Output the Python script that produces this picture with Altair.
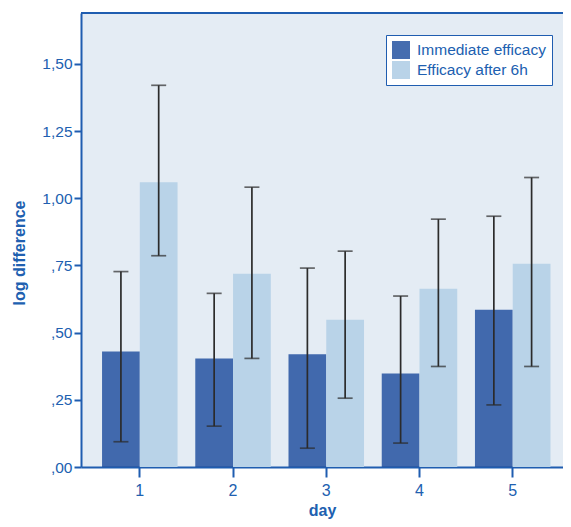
import altair as alt
import pandas as pd

days = [1, 2, 3, 4, 5]
series = ["Immediate efficacy", "Efficacy after 6h"]
immediate_mean = [0.430, 0.404, 0.419, 0.348, 0.585]
immediate_lo = [0.094, 0.152, 0.070, 0.089, 0.231]
immediate_hi = [0.727, 0.646, 0.740, 0.636, 0.933]
after6h_mean = [1.059, 0.719, 0.548, 0.663, 0.756]
after6h_lo = [0.786, 0.404, 0.256, 0.374, 0.374]
after6h_hi = [1.420, 1.041, 0.803, 0.922, 1.077]
y_ticks = [0, 0.25, 0.5, 0.75, 1.0, 1.25, 1.5]

rows = []
for i, d in enumerate(days):
    rows.append({"day": d, "series": series[0], "mean": immediate_mean[i],
                 "lo": immediate_lo[i], "hi": immediate_hi[i]})
    rows.append({"day": d, "series": series[1], "mean": after6h_mean[i],
                 "lo": after6h_lo[i], "hi": after6h_hi[i]})
df = pd.DataFrame(rows)

BLUE = "#1f5db0"
TEXT = "#2060b0"
FONT = "Liberation Sans"
W, H = 482, 454

x_enc = alt.X("day:O", title="day",
              scale=alt.Scale(paddingInner=0.19, paddingOuter=0.18, align=0.627),
              axis=alt.Axis(labelAngle=0, tickSize=10, tickColor=BLUE, tickWidth=2,
                            domainColor=BLUE, domainWidth=2, labelColor=TEXT,
                            labelFontSize=16, labelFont=FONT, labelPadding=5,
                            titleColor=TEXT, titleFont=FONT, titleFontSize=16,
                            titleFontWeight="bold", titleY=48, titleBaseline="alphabetic"))
xo_enc = alt.XOffset("series:N", sort=series,
                     scale=alt.Scale(domain=series, paddingInner=0, paddingOuter=0))
y_scale = alt.Scale(domain=[0, 1.689], nice=False, zero=True)

base = alt.Chart(df)

bars = base.mark_bar().encode(
    x=x_enc,
    xOffset=xo_enc,
    y=alt.Y("mean:Q", scale=y_scale, title="log difference",
            axis=alt.Axis(values=y_ticks, grid=False, tickSize=7, tickColor=BLUE,
                          tickWidth=2, domainColor=BLUE, domainWidth=2,
                          labelColor=TEXT, labelFontSize=15.5, labelFont=FONT,
                          labelPadding=2,
                          labelExpr="replace(replace(format(datum.value, '.2f'), '0.', ','), '.', ',')",
                          titleColor=TEXT, titleFont=FONT, titleFontSize=16,
                          titleFontWeight="bold", titleX=-57, titleY=239.5,
                          titleBaseline="alphabetic", titleAngle=270)),
    color=alt.Color("series:N", sort=series,
                    scale=alt.Scale(domain=series, range=["#18489b", "#b9d3e8"]),
                    legend=alt.Legend(title=None, orient="none", legendX=305, legendY=22,
                                      fillColor="white", strokeColor=BLUE,
                                      padding=6, symbolType="square", symbolSize=324,
                                      symbolStrokeWidth=0, labelFontSize=15.5,
                                      labelFont=FONT, labelColor=TEXT,
                                      labelOffset=7, rowPadding=2)),
    opacity=alt.Opacity("series:N", sort=series,
                        scale=alt.Scale(domain=series, range=[0.8, 1.0]), legend=None),
)

rules = base.mark_rule(color="#2b2b2b", strokeWidth=1.7).encode(
    x=x_enc, xOffset=xo_enc, y=alt.Y("lo:Q", scale=y_scale), y2="hi:Q")

caps_hi = base.mark_tick(color="#2b2b2b", thickness=1.7, size=15).encode(
    x=x_enc, xOffset=xo_enc, y=alt.Y("hi:Q", scale=y_scale))
caps_lo = base.mark_tick(color="#2b2b2b", thickness=1.7, size=15).encode(
    x=x_enc, xOffset=xo_enc, y=alt.Y("lo:Q", scale=y_scale))

top_border = alt.Chart(pd.DataFrame({"k": [0]})).mark_rule(
    color=BLUE, strokeWidth=2).encode(
    x=alt.value(0), x2=alt.value(W), y=alt.value(0))

chart = alt.layer(bars, rules, caps_hi, caps_lo, top_border).properties(
    width=W, height=H,
    background="white",
    autosize=alt.AutoSizeParams(type="none"),
    padding={"left": 73, "top": 5, "right": 0, "bottom": 52},
).configure_view(fill="#e4ecf4", stroke=None)

chart.save("out.html", embed_options={"renderer": "svg", "actions": False})
